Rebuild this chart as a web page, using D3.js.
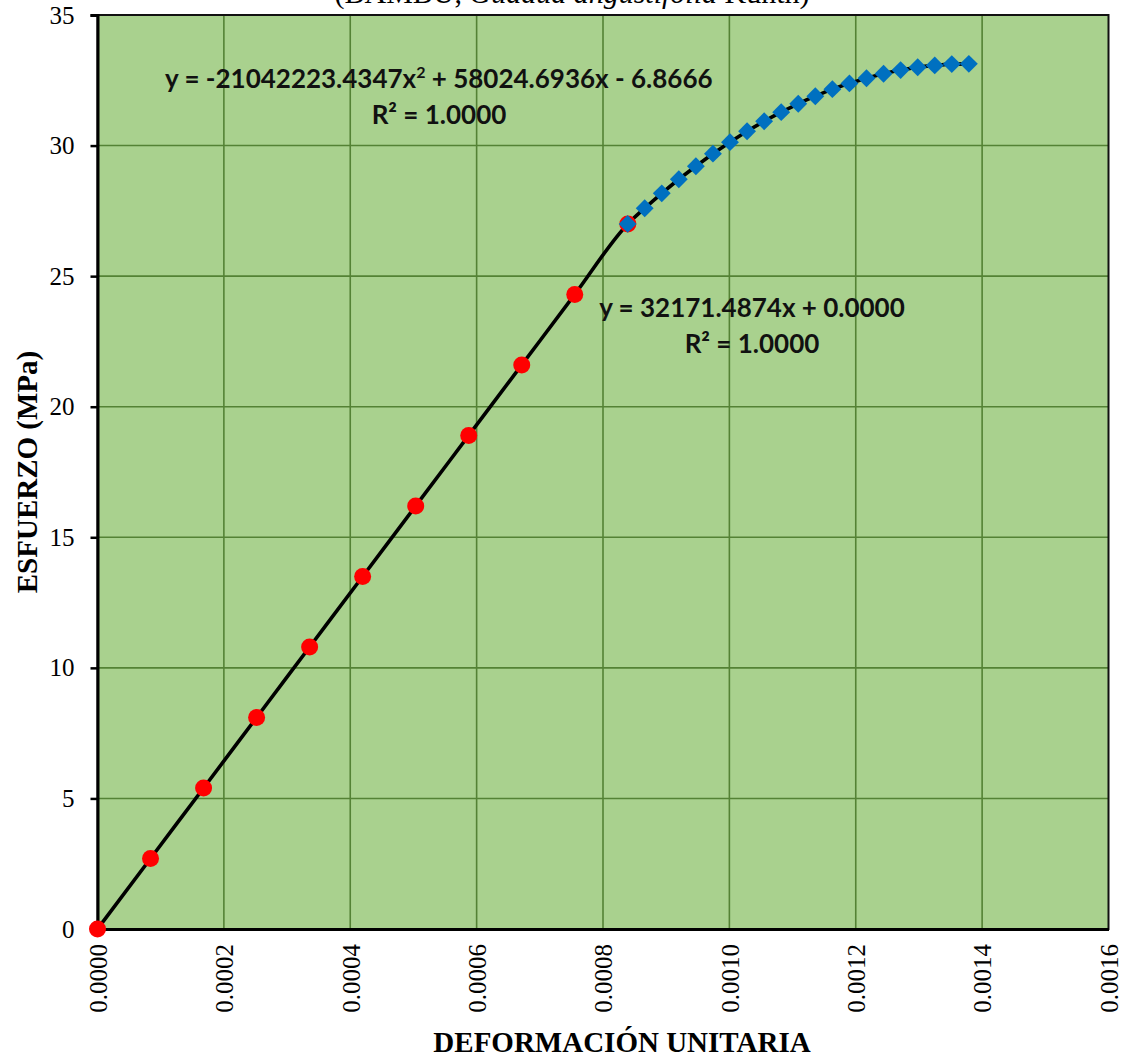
<!DOCTYPE html>
<html>
<head>
<meta charset="utf-8">
<script src="https://cdn.jsdelivr.net/npm/d3@7"></script>
<style>
  html, body { margin: 0; padding: 0; background: #ffffff; }
  svg { display: block; }
</style>
</head>
<body>
<svg id="chart" width="1126" height="1062"></svg>
<script>
// Elastic range (linear fit): strain and stress
const elasticStrain = [0, 0.0000839, 0.0001679, 0.0002518, 0.0003357, 0.0004196,
                       0.0005036, 0.0005875, 0.0006714, 0.0007553, 0.0008393];
const elasticStress = [0, 2.7, 5.4, 8.1, 10.8, 13.5, 16.2, 18.9, 21.6, 24.3, 27.0];

// Plastic range (quadratic fit): strain and stress
const plasticStrain = [0.000839, 0.000866, 0.000893, 0.000920, 0.000947, 0.000974,
                       0.001001, 0.001028, 0.001055, 0.001082, 0.001109, 0.001136,
                       0.001163, 0.001190, 0.001217, 0.001244, 0.001271, 0.001298,
                       0.001325, 0.001352, 0.001379];
const plasticStress = [27.00, 27.60, 28.17, 28.71, 29.21, 29.69, 30.13, 30.55,
                       30.93, 31.28, 31.60, 31.89, 32.16, 32.38, 32.58, 32.75,
                       32.89, 33.00, 33.07, 33.12, 33.13];

const xTicks = [0, 0.0002, 0.0004, 0.0006, 0.0008, 0.0010, 0.0012, 0.0014, 0.0016];
const yTicks = [0, 5, 10, 15, 20, 25, 30, 35];

const quadLabel = ["y = -21042223.4347x", "2", " + 58024.6936x - 6.8666"];
const linLabel = "y = 32171.4874x + 0.0000";
const r2Label = "R² = 1.0000";

const svg = d3.select("#chart");
const plot = { left: 97.5, right: 1108.5, top: 15, bottom: 929 };

const x = d3.scaleLinear().domain([0, 0.0016]).range([plot.left, plot.right]);
const y = d3.scaleLinear().domain([0, 35]).range([plot.bottom, plot.top]);

const serif = "'Liberation Serif', 'Times New Roman', serif";

// Title line (runs off the top edge of the page)
const title = svg.append("text")
  .attr("x", 572).attr("y", 3)
  .attr("text-anchor", "middle")
  .style("font-family", serif)
  .style("font-size", "30px")
  .attr("fill", "#000");
title.append("tspan").text("(BAMBÚ, ");
title.append("tspan").style("font-style", "italic").text("Guadua angustifolia");
title.append("tspan").text(" Kunth)");

// Plot area
svg.append("rect")
  .attr("x", plot.left).attr("y", plot.top)
  .attr("width", plot.right - plot.left).attr("height", plot.bottom - plot.top)
  .attr("fill", "#a9d18e");

// Grid
const grid = svg.append("g").attr("stroke", "#548235").attr("stroke-width", 1.6);
grid.selectAll("line.v").data(xTicks.slice(1, -1)).join("line")
  .attr("x1", d => x(d)).attr("x2", d => x(d))
  .attr("y1", plot.top).attr("y2", plot.bottom);
grid.selectAll("line.h").data(yTicks.slice(1, -1)).join("line")
  .attr("x1", plot.left).attr("x2", plot.right)
  .attr("y1", d => y(d)).attr("y2", d => y(d));

// Border
svg.append("rect")
  .attr("x", plot.left).attr("y", plot.top)
  .attr("width", plot.right - plot.left).attr("height", plot.bottom - plot.top)
  .attr("fill", "none").attr("stroke", "#111").attr("stroke-width", 2);

// Y axis
const yAxis = d3.axisLeft(y).tickValues(yTicks).tickSize(7).tickPadding(16)
  .tickFormat(d3.format("d"));
const gy = svg.append("g").attr("transform", `translate(${plot.left},0)`).call(yAxis);
gy.select(".domain").attr("stroke", "#000").attr("stroke-width", 3);
gy.selectAll(".tick line").attr("stroke", "#000").attr("stroke-width", 2.5);
gy.selectAll(".tick text")
  .style("font-family", serif)
  .style("font-size", "25px").attr("fill", "#000");

// X axis
const xAxis = d3.axisBottom(x).tickValues(xTicks).tickSize(0).tickPadding(0)
  .tickFormat(d3.format(".4f"));
const gx = svg.append("g").attr("transform", `translate(0,${plot.bottom})`).call(xAxis);
gx.select(".domain").attr("stroke", "#000").attr("stroke-width", 3);
gx.selectAll(".tick text")
  .style("font-family", serif)
  .style("font-size", "25px").attr("fill", "#000")
  .attr("transform", "rotate(-90)")
  .attr("text-anchor", "end")
  .attr("dy", "0.35em")
  .attr("x", -15).attr("y", 0);

// Axis titles
svg.append("text")
  .attr("transform", `translate(37,${(plot.top + plot.bottom) / 2}) rotate(-90)`)
  .attr("text-anchor", "middle")
  .style("font-family", serif)
  .style("font-size", "29px").style("font-weight", "bold")
  .text("ESFUERZO (MPa)");

svg.append("text")
  .attr("x", 622).attr("y", 1052)
  .attr("text-anchor", "middle")
  .style("font-family", serif)
  .style("font-size", "29px").style("font-weight", "bold")
  .text("DEFORMACIÓN UNITARIA");

// Stress-strain curve through both ranges
const allPts = elasticStrain.map((d, i) => [d, elasticStress[i]])
  .concat(plasticStrain.slice(1).map((d, i) => [d, plasticStress[i + 1]]));
svg.append("path")
  .datum(allPts)
  .attr("fill", "none").attr("stroke", "#000").attr("stroke-width", 3.6)
  .attr("stroke-linejoin", "round")
  .attr("d", d3.line().curve(d3.curveMonotoneX).x(d => x(d[0])).y(d => y(d[1])));

// Elastic points
svg.append("g").selectAll("circle")
  .data(elasticStrain.map((d, i) => [d, elasticStress[i]]))
  .join("circle")
  .attr("cx", d => x(d[0])).attr("cy", d => y(d[1])).attr("r", 8.5)
  .attr("fill", "#ff0000");

// Plastic points (diamonds)
const diamond = d3.symbol().type(d3.symbolSquare).size(160);
svg.append("g").selectAll("path")
  .data(plasticStrain.map((d, i) => [d, plasticStress[i]]))
  .join("path")
  .attr("d", diamond)
  .attr("transform", d => `translate(${x(d[0])},${y(d[1])}) rotate(45)`)
  .attr("fill", "#0070c0");

// Trendline equations
const eqFont = "Lato, 'Open Sans', sans-serif";
const eq1 = svg.append("text")
  .attr("x", 165).attr("y", 88)
  .style("font-family", eqFont).style("font-size", "26px").style("font-weight", "bold")
  .attr("fill", "#111");
eq1.append("tspan").text(quadLabel[0]);
eq1.append("tspan").attr("dy", -10).style("font-size", "16px").text(quadLabel[1]);
eq1.append("tspan").attr("dy", 10).text(quadLabel[2]);

svg.append("text")
  .attr("x", 439).attr("y", 124).attr("text-anchor", "middle")
  .style("font-family", eqFont).style("font-size", "26px").style("font-weight", "bold")
  .attr("fill", "#111").text(r2Label);

svg.append("text")
  .attr("x", 752).attr("y", 317).attr("text-anchor", "middle")
  .style("font-family", eqFont).style("font-size", "26px").style("font-weight", "bold")
  .attr("fill", "#111").text(linLabel);

svg.append("text")
  .attr("x", 752).attr("y", 353).attr("text-anchor", "middle")
  .style("font-family", eqFont).style("font-size", "26px").style("font-weight", "bold")
  .attr("fill", "#111").text(r2Label);
</script>
</body>
</html>
